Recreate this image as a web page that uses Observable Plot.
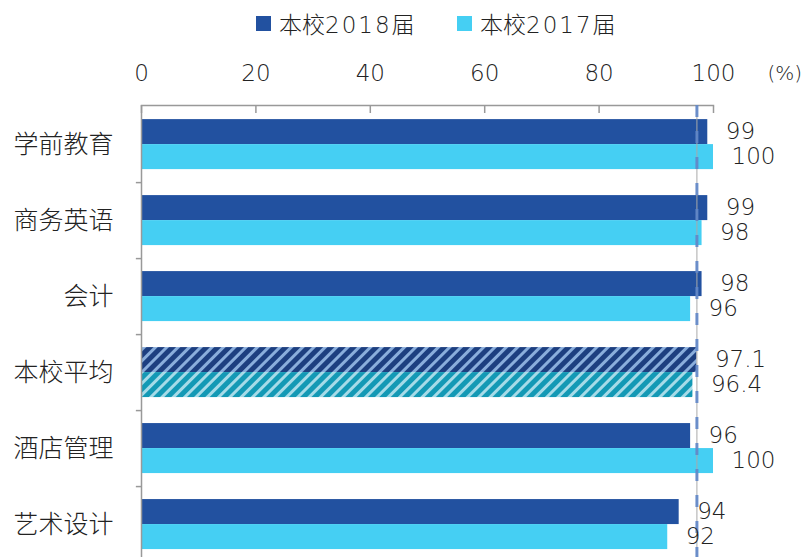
<!DOCTYPE html>
<html><head><meta charset="utf-8">
<script src="https://cdn.jsdelivr.net/npm/d3@7"></script>
<script src="https://cdn.jsdelivr.net/npm/@observablehq/plot@0.6"></script>
<style>
body{margin:0;background:#fff;}
#legend{height:48px;position:relative;font-family:"Noto Sans CJK SC",sans-serif;font-size:23px;font-weight:300;color:#222;}
.item{position:absolute;top:6px;display:flex;align-items:center;white-space:nowrap;}
.sw{width:15px;height:15px;margin-right:8px;}
.num{font-family:"DejaVu Sans",sans-serif;font-weight:200;letter-spacing:2px;}
svg text.spaced{letter-spacing:2px;}
</style></head><body>
<div id="legend"></div>
<div id="chart"></div>
<script>
const categories = ["学前教育","商务英语","会计","本校平均","酒店管理","艺术设计"];
const values2018 = [99, 99, 98, 97.1, 96, 94];
const values2017 = [100, 98, 96, 96.4, 100, 92];
const seriesNames = ["本校2018届", "本校2017届"];
const seriesColors = ["#2251A0", "#45CFF3"];
const xTicks = [0, 20, 40, 60, 80, 100];
const averageCategory = "本校平均";
const unitLabel = "(%)";

const avgIndex = categories.indexOf(averageCategory);
const averageLine = values2018[avgIndex];

const rows2018 = categories.map((c, i) => ({category: c, value: values2018[i]}));
const rows2017 = categories.map((c, i) => ({category: c, value: values2017[i]}));
const isAvg = d => d.category === averageCategory;
const notAvg = d => d.category !== averageCategory;

const numFont = "'DejaVu Sans', sans-serif";
const cjkFont = "'Noto Sans CJK SC', sans-serif";

// legend
const legend = document.getElementById("legend");
const legendX = [256, 457];
seriesNames.forEach((s, i) => {
  const it = document.createElement("div");
  it.className = "item";
  it.style.left = legendX[i] + "px";
  const html = s.replace(/(\d+)/, '<span class="num">$1</span>');
  it.innerHTML = `<div class="sw" style="background:${seriesColors[i]}"></div><span>${html}</span>`;
  legend.appendChild(it);
});

const numText = {fontSize: 23, fontFamily: numFont, fontWeight: 200, fill: "#222", className: "spaced"};

const plot = Plot.plot({
  width: 804,
  height: 509,
  marginTop: 57,
  marginBottom: 0,
  marginLeft: 141,
  marginRight: 91,
  style: {background: "#fff", color: "#222", overflow: "visible"},
  x: {domain: [0, 100], axis: null},
  y: {domain: categories, paddingInner: 0.342, paddingOuter: 0.145, align: 0.64, round: false, axis: null},
  marks: [
    Plot.barX(rows2018.filter(notAvg), {x: "value", y: "category", fill: seriesColors[0], insetBottom: 25}),
    Plot.barX(rows2017.filter(notAvg), {x: "value", y: "category", fill: seriesColors[1], insetTop: 25}),
    Plot.barX(rows2018.filter(isAvg), {x: "value", y: "category", fill: "url(#hatch2018)", insetBottom: 25}),
    Plot.barX(rows2017.filter(isAvg), {x: "value", y: "category", fill: "url(#hatch2017)", insetTop: 25}),
    Plot.ruleX([0], {stroke: "#999", strokeWidth: 1.5}),
    Plot.frame({anchor: "top", stroke: "#999", strokeWidth: 1.5}),
    Plot.axisX(xTicks, {anchor: "top", tickSize: 7, dy: 7, tickFormat: () => "", stroke: "#999", strokeWidth: 1.5, label: null}),
    Plot.axisX(xTicks, {anchor: "top", tickSize: 0, tickPadding: 25, ...numText, label: null}),
    Plot.text([unitLabel], {frameAnchor: "top-right", dx: 54, dy: -40, textAnchor: "start", fontSize: 20, fontFamily: numFont, fontWeight: 200, fill: "#222"}),
    Plot.axisY({anchor: "left", tickSize: 0, tickPadding: 28, fontSize: 25, fontFamily: cjkFont, fontWeight: 300, fill: "#222", label: null}),
    Plot.ruleY(categories.slice(0, -1), {x1: -0.9, x2: 0, dy: 38, stroke: "#999", strokeWidth: 1.5}),
    Plot.ruleX([averageLine], {stroke: "#aaa", strokeWidth: 1}),
    Plot.ruleX([averageLine], {stroke: "#5f86c8", strokeOpacity: 0.9, strokeWidth: 3, strokeDasharray: "12,14"}),
    Plot.text(rows2018, {x: "value", y: "category", text: d => String(d.value), dx: 18, dy: -12.5, textAnchor: "start", ...numText}),
    Plot.text(rows2017, {x: "value", y: "category", text: d => String(d.value), dx: 18, dy: 12.5, textAnchor: "start", ...numText})
  ]
});

const svg = d3.select(plot);
const defs = svg.insert("defs", ":first-child");
function hatch(id, base, stripe) {
  const p = defs.append("pattern").attr("id", id).attr("patternUnits", "userSpaceOnUse")
    .attr("width", 8).attr("height", 8).attr("patternTransform", "rotate(45)");
  p.append("rect").attr("width", 8).attr("height", 8).attr("fill", base);
  p.append("rect").attr("width", 3).attr("height", 8).attr("fill", stripe);
}
hatch("hatch2018", "#1d3f80", "#8aaedc");
hatch("hatch2017", "#1399b5", "#a6dbe8");

document.getElementById("chart").appendChild(plot);
</script>
</body></html>
